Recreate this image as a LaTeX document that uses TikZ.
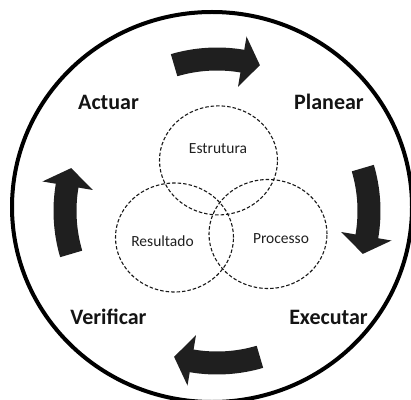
\documentclass[tikz,border=0pt]{standalone}
\usepackage{fontspec}
\setmainfont{Carlito}
\usetikzlibrary{shapes.geometric}
\begin{document}
\begin{tikzpicture}[x=1pt,y=1pt,
  stage/.style={font=\fontsize{22}{26}\selectfont\bfseries, anchor=base, inner sep=0pt, text=black!92},
  facet/.style={font=\fontsize{15.5}{18}\selectfont, anchor=base, inner sep=0pt, text=black!88},
  ring/.style={draw=black!90, dash pattern=on 3.5pt off 2pt, line width=1.1pt, ellipse,
               minimum width=118pt, minimum height=109pt, inner sep=0pt},
  cyclearrow/.style={fill=black!88, draw=none}]
\useasboundingbox (0,0) rectangle (411,399);
\clip (0,0) rectangle (411,399);

% outer frame
\draw[line width=4pt] (212,192) ellipse [x radius=200, y radius=195];

% four curved arrows running clockwise around the cycle
\begin{scope}[shift={(217,188)}]
  \foreach \b in {90,0,-90,180}{
    \pgfmathsetmacro{\ta}{\b+16.4}
    \pgfmathsetmacro{\ha}{\b-9.6}
    \pgfmathsetmacro{\pa}{\b-16.4}
    \fill[cyclearrow]
      (\ta:163.5) arc[start angle=\ta, end angle=\ha, radius=163.5]
      -- (\ha:177) -- (\pa:152) -- (\ha:126) -- (\ha:140.5)
      arc[start angle=\ha, end angle=\ta, radius=140.5] -- cycle;
  }
\end{scope}

% stage labels
\node[stage] (actuar)    at (108.5,289.7) {Actuar};
\node[stage] (planear)   at (329,289.7)   {Planear};
\node[stage] (verificar) at (108.5,75)    {Verificar};
\node[stage] (executar)  at (328.5,75)    {Executar};

% dashed overlapping circles
\node[ring] (cestr) at (218.5,238.6) {};
\node[ring] (cres)  at (174.5,161.5) {};
\node[ring] (cproc) at (268,165)     {};

% circle labels
\node[facet] (estrutura) at (218,245)   {Estrutura};
\node[facet] (resultado) at (162.5,153) {Resultado};
\node[facet] (processo)  at (281,156)   {Processo};
\end{tikzpicture}
\end{document}
